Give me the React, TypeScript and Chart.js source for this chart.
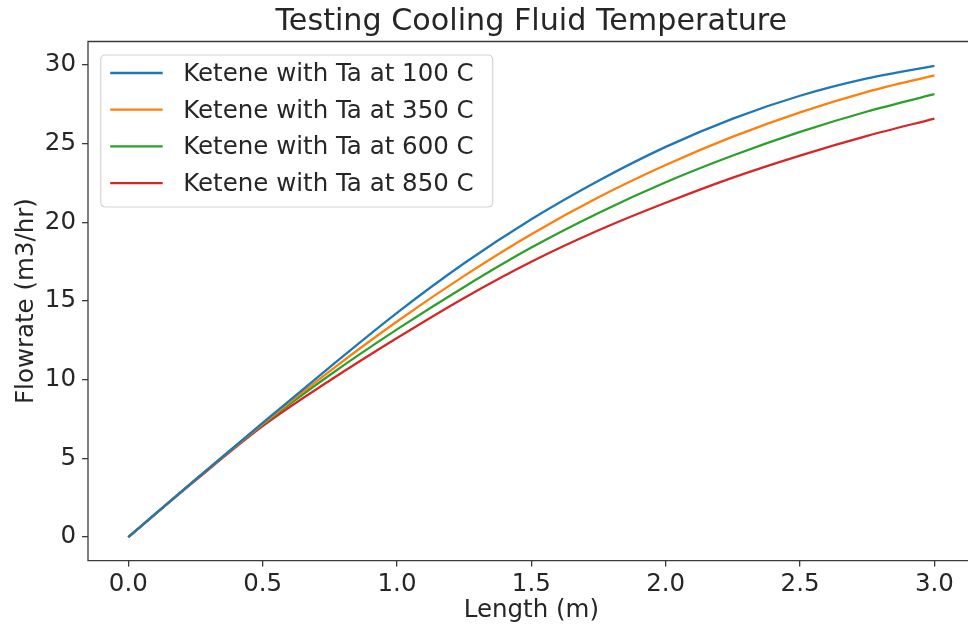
import React, { useEffect, useRef } from "react";
import { Chart, registerables } from "chart.js";

Chart.register(...registerables);

const lengths = [0, 0.25, 0.5, 0.75, 1.0, 1.25, 1.5, 1.75, 2.0, 2.25, 2.5, 2.75, 3.0];
const ta100 = [0, 3.65, 7.25, 10.8, 14.25, 17.4, 20.2, 22.65, 24.8, 26.6, 28.05, 29.15, 29.95];
const ta350 = [0, 3.65, 7.2, 10.55, 13.7, 16.6, 19.25, 21.6, 23.65, 25.45, 27.0, 28.3, 29.35];
const ta600 = [0, 3.65, 7.15, 10.3, 13.2, 15.9, 18.4, 20.6, 22.55, 24.25, 25.75, 27.05, 28.15];
const ta850 = [0, 3.6, 7.05, 9.95, 12.65, 15.2, 17.5, 19.5, 21.25, 22.85, 24.25, 25.5, 26.6];

const seriesLabels = [
  "Ketene with Ta at 100 C",
  "Ketene with Ta at 350 C",
  "Ketene with Ta at 600 C",
  "Ketene with Ta at 850 C",
];
const seriesColors = ["#1f77b4", "#ff7f0e", "#2ca02c", "#d62728"];
const xTicks = [0, 0.5, 1.0, 1.5, 2.0, 2.5, 3.0];
const yTicks = [0, 5, 10, 15, 20, 25, 30];

const titleText = "Testing Cooling Fluid Temperature";
const xLabel = "Length (m)";
const yLabel = "Flowrate (m3/hr)";

const FONT = "'DejaVu Sans', sans-serif";
const TEXT = "#262626";
const SPINE = "#3a3a3a";

const decorPlugin = {
  id: "decor",
  afterDraw(chart: any) {
    const { ctx, chartArea } = chart;
    const a = chartArea;
    ctx.save();
    // spines: left, top, bottom (right spine lies beyond the visible area)
    ctx.strokeStyle = SPINE;
    ctx.lineWidth = 1.3;
    ctx.beginPath();
    ctx.moveTo(a.right + 10, a.top);
    ctx.lineTo(a.left, a.top);
    ctx.lineTo(a.left, a.bottom);
    ctx.lineTo(a.right + 10, a.bottom);
    ctx.stroke();
    // title
    const cx = (a.left + a.right) / 2;
    ctx.fillStyle = TEXT;
    ctx.font = `30.2px ${FONT}`;
    ctx.textAlign = "center";
    ctx.textBaseline = "alphabetic";
    ctx.fillText(titleText, cx, 29.5);
    // x label
    ctx.font = `24.5px ${FONT}`;
    ctx.fillText(xLabel, cx, 617);
    // y label
    ctx.save();
    ctx.translate(33, (a.top + a.bottom) / 2);
    ctx.rotate(-Math.PI / 2);
    ctx.fillText(yLabel, 0, 0);
    ctx.restore();
    // legend
    const bx = a.left + 12.7;
    const by = a.top + 13.5;
    const bw = 392;
    const bh = 152;
    const r = 5;
    ctx.beginPath();
    ctx.moveTo(bx + r, by);
    ctx.lineTo(bx + bw - r, by);
    ctx.quadraticCurveTo(bx + bw, by, bx + bw, by + r);
    ctx.lineTo(bx + bw, by + bh - r);
    ctx.quadraticCurveTo(bx + bw, by + bh, bx + bw - r, by + bh);
    ctx.lineTo(bx + r, by + bh);
    ctx.quadraticCurveTo(bx, by + bh, bx, by + bh - r);
    ctx.lineTo(bx, by + r);
    ctx.quadraticCurveTo(bx, by, bx + r, by);
    ctx.closePath();
    ctx.fillStyle = "rgba(255,255,255,0.85)";
    ctx.fill();
    ctx.strokeStyle = "#d4d4d4";
    ctx.lineWidth = 1.2;
    ctx.stroke();
    ctx.font = `24.5px ${FONT}`;
    ctx.textAlign = "left";
    ctx.textBaseline = "middle";
    chart.data.datasets.forEach((ds: any, i: number) => {
      const y = by + 18 + i * 36.7;
      ctx.strokeStyle = ds.borderColor;
      ctx.lineWidth = 2.3;
      ctx.beginPath();
      ctx.moveTo(bx + 9.5, y);
      ctx.lineTo(bx + 62, y);
      ctx.stroke();
      ctx.fillStyle = TEXT;
      ctx.fillText(ds.label, bx + 82.5, y + 1.5);
    });
    ctx.restore();
  },
};

export default function App() {
  const ref = useRef<HTMLCanvasElement | null>(null);
  useEffect(() => {
    if (!ref.current) return;
    const series = [ta100, ta350, ta600, ta850];
    const chart = new Chart(ref.current, {
      type: "line",
      data: {
        datasets: series.map((vals, i) => ({
          label: seriesLabels[i],
          data: lengths.map((x, j) => ({ x, y: vals[j] })),
          borderColor: seriesColors[i],
          backgroundColor: seriesColors[i],
          borderWidth: 2.3,
          pointRadius: 0,
          cubicInterpolationMode: "monotone" as const,
          fill: false,
        })),
      },
      options: {
        animation: false,
        responsive: false,
        maintainAspectRatio: false,
        layout: { padding: { left: 0, top: 41.5, right: 5.3, bottom: 0 } },
        plugins: { legend: { display: false }, title: { display: false }, tooltip: { enabled: false } },
        scales: {
          x: {
            type: "linear",
            min: -0.15,
            max: 3.15,
            afterBuildTicks: (s: any) => {
              s.ticks = xTicks.map((v) => ({ value: v }));
            },
            afterFit: (s: any) => {
              s.height = 66.4;
              s.paddingLeft = 0;
              s.paddingRight = 0;
            },
            ticks: {
              color: TEXT,
              font: { family: FONT, size: 24.5 },
              padding: 3,
              maxRotation: 0,
              autoSkip: false,
              callback: (v: any) => Number(v).toFixed(1),
            },
            grid: { display: true, drawOnChartArea: false, drawTicks: true, tickLength: 6, color: SPINE, lineWidth: 1.3 },
            border: { display: false },
          },
          y: {
            type: "linear",
            min: -1.5,
            max: 31.5,
            afterBuildTicks: (s: any) => {
              s.ticks = yTicks.map((v) => ({ value: v }));
            },
            afterFit: (s: any) => {
              s.width = 88;
              s.paddingTop = 0;
              s.paddingBottom = 0;
            },
            ticks: {
              color: TEXT,
              font: { family: FONT, size: 24.5 },
              padding: 6,
              autoSkip: false,
              callback: (v: any) => String(v),
            },
            grid: { display: true, drawOnChartArea: false, drawTicks: true, tickLength: 6, color: SPINE, lineWidth: 1.3 },
            border: { display: false },
          },
        },
      },
      plugins: [decorPlugin],
    });
    return () => chart.destroy();
  }, []);
  return (
    <div style={{ position: "absolute", left: 0, top: 0, width: 968, height: 627, overflow: "hidden", background: "#fff" }}>
      <canvas ref={ref} width={980} height={627} style={{ display: "block", width: 980, height: 627 }} />
    </div>
  );
}
